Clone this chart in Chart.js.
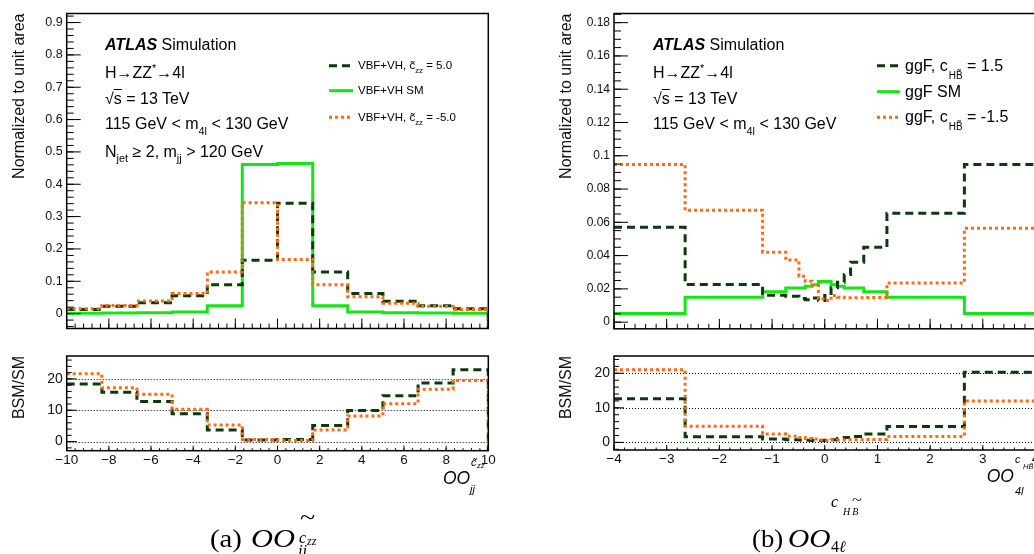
<!DOCTYPE html>
<html><head><meta charset="utf-8">
<script src="https://cdn.jsdelivr.net/npm/chart.js@4.4.0/dist/chart.umd.min.js"></script>
<style>
html,body{margin:0;padding:0;width:1034px;height:554px;overflow:hidden;background:#fff;}
body{position:relative;font-family:"Liberation Sans",Arial,sans-serif;color:#000;}
canvas{position:absolute;}
.t{position:absolute;white-space:nowrap;line-height:1;}
.sub{font-size:0.68em;position:relative;top:0.55em;}
.sup{font-size:0.68em;position:relative;top:-0.5em;}
.ser{font-family:"Liberation Serif","Times New Roman",serif;}
.wide{transform:scaleX(1.22);transform-origin:left;}
svg{position:absolute;overflow:visible;}
</style></head><body>
<canvas id="cMainA" width="500" height="340" style="left:0;top:0"></canvas>
<canvas id="cRatA" width="500" height="214" style="left:0;top:340px"></canvas>
<canvas id="cMainB" width="520" height="340" style="left:530px;top:0"></canvas>
<canvas id="cRatB" width="520" height="214" style="left:530px;top:340px"></canvas>

<!-- panel (a) labels -->
<div class="t" style="left:105px;top:37px;font-size:16px"><b><i>ATLAS</i></b> Simulation</div>
<div class="t" style="left:105px;top:64.5px;font-size:16px">H→ZZ<span class="sup">*</span>→4l</div>
<div class="t" style="left:105px;top:91px;font-size:16px">√<span style="text-decoration:overline">s</span> = 13 TeV</div>
<div class="t" style="left:105px;top:116px;font-size:16px">115 GeV &lt; m<span class="sub">4l</span> &lt; 130 GeV</div>
<div class="t" style="left:105px;top:143.5px;font-size:16px">N<span class="sub">jet</span> ≥ 2, m<span class="sub">jj</span> &gt; 120 GeV</div>

<svg style="left:329px;top:60px" width="25" height="62">
  <line x1="0" y1="5.7" x2="24" y2="5.7" stroke="#0b3a0b" stroke-width="3" stroke-dasharray="8,5"/>
  <line x1="0" y1="30.7" x2="24" y2="30.7" stroke="#14e614" stroke-width="3"/>
  <line x1="0" y1="57.3" x2="24" y2="57.3" stroke="#ff6a12" stroke-width="3" stroke-dasharray="3,3"/>
</svg>
<div class="t" style="left:358px;top:60px;font-size:11.5px">VBF+VH, c&#771;<span class="sub">zz</span> = 5.0</div>
<div class="t" style="left:358px;top:85px;font-size:11.5px">VBF+VH SM</div>
<div class="t" style="left:358px;top:111.7px;font-size:11.5px">VBF+VH, c&#771;<span class="sub">zz</span> = -5.0</div>

<!-- panel (b) labels -->
<div class="t" style="left:653px;top:37px;font-size:16px"><b><i>ATLAS</i></b> Simulation</div>
<div class="t" style="left:653px;top:64.5px;font-size:16px">H→ZZ<span class="sup">*</span>→4l</div>
<div class="t" style="left:653px;top:91px;font-size:16px">√<span style="text-decoration:overline">s</span> = 13 TeV</div>
<div class="t" style="left:653px;top:116px;font-size:16px">115 GeV &lt; m<span class="sub">4l</span> &lt; 130 GeV</div>

<svg style="left:877px;top:60px" width="25" height="62">
  <line x1="0" y1="5.7" x2="23" y2="5.7" stroke="#0b3a0b" stroke-width="3" stroke-dasharray="8,5"/>
  <line x1="0" y1="31.7" x2="23" y2="31.7" stroke="#14e614" stroke-width="3"/>
  <line x1="0" y1="57.3" x2="23" y2="57.3" stroke="#ff6a12" stroke-width="3" stroke-dasharray="3,3"/>
</svg>
<div class="t" style="left:905px;top:57.7px;font-size:16px">ggF, c<span style="font-size:10px;position:relative;top:8px;margin-left:1px">HB&#771;</span> = 1.5</div>
<div class="t" style="left:905px;top:83.7px;font-size:16px">ggF SM</div>
<div class="t" style="left:905px;top:109.3px;font-size:16px">ggF, c<span style="font-size:10px;position:relative;top:8px;margin-left:1px">HB&#771;</span> = -1.5</div>

<!-- x axis titles -->
<div class="t" style="left:443px;top:470px;font-size:17.5px;font-style:italic">OO</div>
<div class="t" style="left:471px;top:457px;font-size:11px;font-style:italic">c&#771;</div>
<div class="t" style="left:477px;top:462px;font-size:7.5px;font-style:italic">zz</div>
<div class="t" style="left:470px;top:484px;font-size:11px;font-style:italic">jj</div>

<div class="t" style="left:986.7px;top:468px;font-size:17.5px;font-style:italic">OO</div>
<div class="t" style="left:1015px;top:454px;font-size:11px;font-style:italic">c</div>
<div class="t" style="left:1023px;top:463px;font-size:7.5px;font-style:italic">HB&#771;</div>
<div class="t" style="left:1015px;top:486px;font-size:11px;font-style:italic">4l</div>

<!-- captions -->
<div class="t ser" style="left:210px;top:526px;font-size:25px;transform:scaleX(1.15);transform-origin:left">(a)</div>
<div class="t ser wide" style="left:251px;top:526px;font-size:25px;font-style:italic">OO</div>
<div class="t ser" style="left:300px;top:507px;font-size:20px;transform:scaleX(1.4);transform-origin:left">~</div>
<div class="t ser" style="left:299px;top:529.6px;font-size:16px;font-style:italic">c</div>
<div class="t ser" style="left:307px;top:535px;font-size:12px;font-style:italic">zz</div>
<div class="t ser" style="left:298px;top:542.6px;font-size:16px;font-style:italic">jj</div>

<div class="t ser" style="left:751.7px;top:526px;font-size:25px;transform:scaleX(1.07);transform-origin:left">(b)</div>
<div class="t ser" style="left:788px;top:526px;font-size:25px;font-style:italic;transform:scaleX(1.18);transform-origin:left">OO</div>
<div class="t ser" style="left:831px;top:493.6px;font-size:16px;font-style:italic">c</div>
<div class="t ser" style="left:843px;top:506.6px;font-size:10px;font-style:italic;letter-spacing:2px">HB</div>
<div class="t ser" style="left:852px;top:494px;font-size:14px;transform:scaleX(1.3);transform-origin:left">~</div>
<div class="t ser" style="left:831px;top:538.6px;font-size:16px">4<i>ℓ</i></div>

<script>
// ---------- data: panel (a) ----------
const edgesA   = [-10, -8.33, -6.67, -5, -3.33, -1.67, 0, 1.67, 3.33, 5, 6.67, 8.33, 10];
const smA      = [0.001, 0.002, 0.003, 0.005, 0.024, 0.461, 0.464, 0.024, 0.005, 0.003, 0.002, 0.001];
const posA     = [0.013, 0.023, 0.034, 0.055, 0.089, 0.165, 0.341, 0.129, 0.062, 0.038, 0.024, 0.015];
const negA     = [0.015, 0.025, 0.039, 0.062, 0.129, 0.343, 0.167, 0.089, 0.052, 0.032, 0.023, 0.013];
const ratioPosA = [18.4, 15.7, 12.8, 8.9, 3.7, 0.5, 0.7, 5.1, 9.9, 14.6, 18.7, 22.9];
const ratioNegA = [21.6, 17.2, 15.1, 10.3, 5.3, 0.7, 0.35, 3.7, 8.2, 12.1, 16.7, 19.5];
const xTicksA  = [-10, -8, -6, -4, -2, 0, 2, 4, 6, 8, 10];
const yTicksA  = [0, 0.1, 0.2, 0.3, 0.4, 0.5, 0.6, 0.7, 0.8, 0.9];

// ---------- data: panel (b) ----------
const edgesB   = [-4, -2.65, -1.18, -0.74, -0.49, -0.37, -0.24, -0.12, 0, 0.12, 0.24, 0.37, 0.49, 0.74, 1.18, 2.65, 4];
const smB      = [0.0052, 0.015, 0.0183, 0.0205, 0.0205, 0.0215, 0.0225, 0.0245, 0.0245, 0.0225, 0.0215, 0.0205, 0.0205, 0.0183, 0.015, 0.0052];
const posB     = [0.057, 0.0226, 0.0162, 0.0155, 0.0142, 0.0135, 0.0145, 0.013, 0.016, 0.0206, 0.024, 0.0286, 0.036, 0.045, 0.0654, 0.0948];
const negB     = [0.0948, 0.0672, 0.042, 0.0374, 0.0276, 0.0246, 0.022, 0.014, 0.013, 0.016, 0.015, 0.0146, 0.0146, 0.0148, 0.0236, 0.0564];
const ratioPosB = [12.6, 1.6, 1.0, 0.8, 0.7, 0.6, 0.55, 0.5, 0.6, 0.8, 1.1, 1.4, 1.7, 2.45, 4.6, 20.3];
const ratioNegB = [21.0, 4.7, 2.4, 1.8, 1.4, 1.15, 0.95, 0.7, 0.55, 0.7, 0.72, 0.75, 0.75, 0.82, 1.7, 12.0];
const xTicksB  = [-4, -3, -2, -1, 0, 1, 2, 3, 4];
const yTicksB  = [0, 0.02, 0.04, 0.06, 0.08, 0.1, 0.12, 0.14, 0.16, 0.18];
const ratioTicks = [0, 10, 20];

const FONT = '"Liberation Sans", Arial, sans-serif';
const STYLE = {
  pos: {borderColor: '#0b3a0b', borderWidth: 3, borderDash: [8, 5]},
  sm:  {borderColor: '#14e614', borderWidth: 3, borderDash: []},
  neg: {borderColor: '#ff6a12', borderWidth: 3, borderDash: [3, 3]}
};

function histPoints(edges, vals, dropTo) {
  const pts = vals.map((v, i) => ({x: edges[i], y: v}));
  pts.push({x: edges[edges.length - 1], y: vals[vals.length - 1]});
  if (dropTo !== undefined) pts.push({x: edges[edges.length - 1], y: dropTo});
  return pts;
}
function ds(pts, st) {
  return Object.assign({data: pts, stepped: true, pointRadius: 0, fill: false, tension: 0, borderCapStyle: 'butt'}, st);
}
function fmt(v) { return v < 0 ? '\u2212' + (-v) : String(v); }
function stepsIn(min, max, step) {
  const out = [];
  const n0 = Math.ceil(min / step - 1e-9), n1 = Math.floor(max / step + 1e-9);
  for (let n = n0; n <= n1; n++) out.push(n * step);
  return out;
}

const frameTicks = {
  id: 'frameTicks',
  beforeDatasetsDraw(chart, args, o) {
    const {ctx, chartArea: a} = chart, y = chart.scales.y;
    if (o.hlines) {
      ctx.save();
      ctx.strokeStyle = '#000'; ctx.lineWidth = 1; ctx.setLineDash([1, 2]);
      o.hlines.forEach(v => {
        const py = Math.round(y.getPixelForValue(v)) + 0.5;
        ctx.beginPath(); ctx.moveTo(a.left, py); ctx.lineTo(a.right, py); ctx.stroke();
      });
      ctx.restore();
    }
  },
  afterDatasetsDraw(chart, args, o) {
    const {ctx, chartArea: a} = chart, x = chart.scales.x, y = chart.scales.y;
    ctx.save();
    ctx.strokeStyle = '#000'; ctx.lineWidth = 1; ctx.setLineDash([]);
    ctx.beginPath();
    stepsIn(y.min, y.max, o.yMinor).forEach(v => {
      const py = y.getPixelForValue(v);
      ctx.moveTo(a.left, py); ctx.lineTo(a.left + o.yMinLen, py);
    });
    stepsIn(y.min, y.max, o.yMajor).forEach(v => {
      const py = y.getPixelForValue(v);
      ctx.moveTo(a.left, py); ctx.lineTo(a.left + o.yMajLen, py);
    });
    stepsIn(x.min, x.max, o.xMinor).forEach(v => {
      const px = x.getPixelForValue(v);
      ctx.moveTo(px, a.bottom); ctx.lineTo(px, a.bottom - o.xMinLen);
    });
    stepsIn(x.min, x.max, o.xMajor).forEach(v => {
      const px = x.getPixelForValue(v);
      ctx.moveTo(px, a.bottom); ctx.lineTo(px, a.bottom - o.xMajLen);
    });
    ctx.stroke();
    ctx.lineWidth = 1.5;
    ctx.strokeRect(a.left, a.top, a.right - a.left, a.bottom - a.top);
    ctx.restore();
  }
};

function makeChart(id, o) {
  return new Chart(document.getElementById(id), {
    type: 'line',
    data: {datasets: o.datasets},
    options: {
      responsive: false, animation: false, events: [],
      layout: {padding: {left: 0, top: o.padTop, right: o.padRight, bottom: 0}},
      plugins: {legend: {display: false}, tooltip: {enabled: false}, frameTicks: o.ft},
      scales: {
        x: {
          type: 'linear', min: o.xmin, max: o.xmax,
          afterBuildTicks: s => { s.ticks = o.xt.map(v => ({value: v})); },
          afterFit: s => { s.height = o.xH; },
          grid: {display: false, drawTicks: false}, border: {display: false},
          ticks: {display: o.xLabels, padding: 1, font: {family: FONT, size: 13.5}, color: '#111',
                  maxRotation: 0, autoSkip: false, callback: fmt}
        },
        y: {
          type: 'linear', min: o.ymin, max: o.ymax,
          afterBuildTicks: s => { s.ticks = o.yt.map(v => ({value: v})); },
          afterFit: s => { s.width = o.yW; },
          grid: {display: false, drawTicks: false}, border: {display: false},
          ticks: {padding: 4, font: {family: FONT, size: o.yFont}, color: '#111', autoSkip: false, callback: fmt},
          title: {display: true, text: o.yTitle, align: 'end', color: '#111',
                  font: {family: FONT, size: 16}, padding: {top: o.titlePad, bottom: 0}}
        }
      }
    },
    plugins: [frameTicks]
  });
}

// panel (a) main
const yMinA = -0.046, yMaxA = 0.928;
makeChart('cMainA', {
  datasets: [
    ds(histPoints(edgesA, negA, yMinA), STYLE.neg),
    ds(histPoints(edgesA, posA, yMinA), STYLE.pos),
    ds(histPoints(edgesA, smA, yMinA), STYLE.sm)
  ],
  xmin: -10, xmax: 10, xt: xTicksA, xH: 10.7, xLabels: false,
  ymin: yMinA, ymax: yMaxA, yt: yTicksA, yW: 66.7, yFont: 12.5,
  padTop: 13.5, padRight: 11.7, yTitle: 'Normalized to unit area', titlePad: 10,
  ft: {yMajor: 0.1, yMinor: 0.02, yMajLen: 14, yMinLen: 7, xMajor: 2, xMinor: 0.4, xMajLen: 10, xMinLen: 5}
});
// panel (a) ratio
const rMinA = -2.9, rMaxA = 27.3;
makeChart('cRatA', {
  datasets: [
    ds(histPoints(edgesA, ratioNegA, rMinA), STYLE.neg),
    ds(histPoints(edgesA, ratioPosA, rMinA), STYLE.pos)
  ],
  xmin: -10, xmax: 10, xt: xTicksA, xH: 103.3, xLabels: true,
  ymin: rMinA, ymax: rMaxA, yt: ratioTicks, yW: 66.7, yFont: 14,
  padTop: 16, padRight: 11.7, yTitle: 'BSM/SM', titlePad: 10,
  ft: {hlines: ratioTicks, yMajor: 10, yMinor: 2, yMajLen: 10, yMinLen: 5, xMajor: 2, xMinor: 0.4, xMajLen: 5, xMinLen: 2.5}
});
// panel (b) main
const yMinB = -0.004, yMaxB = 0.1855;
makeChart('cMainB', {
  datasets: [
    ds(histPoints(edgesB, negB), STYLE.neg),
    ds(histPoints(edgesB, posB), STYLE.pos),
    ds(histPoints(edgesB, smB), STYLE.sm)
  ],
  xmin: -4, xmax: 4, xt: xTicksB, xH: 10.7, xLabels: false,
  ymin: yMinB, ymax: yMaxB, yt: yTicksB, yW: 84, yFont: 12,
  padTop: 13.5, padRight: 14.5, yTitle: 'Normalized to unit area', titlePad: 27.4,
  ft: {yMajor: 0.02, yMinor: 0.005, yMajLen: 14, yMinLen: 7, xMajor: 1, xMinor: 0.2, xMajLen: 10, xMinLen: 5}
});
// panel (b) ratio
const rMinB = -2.2, rMaxB = 25.0;
makeChart('cRatB', {
  datasets: [
    ds(histPoints(edgesB, ratioNegB), STYLE.neg),
    ds(histPoints(edgesB, ratioPosB), STYLE.pos)
  ],
  xmin: -4, xmax: 4, xt: xTicksB, xH: 104, xLabels: true,
  ymin: rMinB, ymax: rMaxB, yt: ratioTicks, yW: 84, yFont: 14,
  padTop: 16, padRight: 14.5, yTitle: 'BSM/SM', titlePad: 27.4,
  ft: {hlines: ratioTicks, yMajor: 10, yMinor: 2, yMajLen: 10, yMinLen: 5, xMajor: 1, xMinor: 0.2, xMajLen: 5, xMinLen: 2.5}
});
</script>
</body></html>
